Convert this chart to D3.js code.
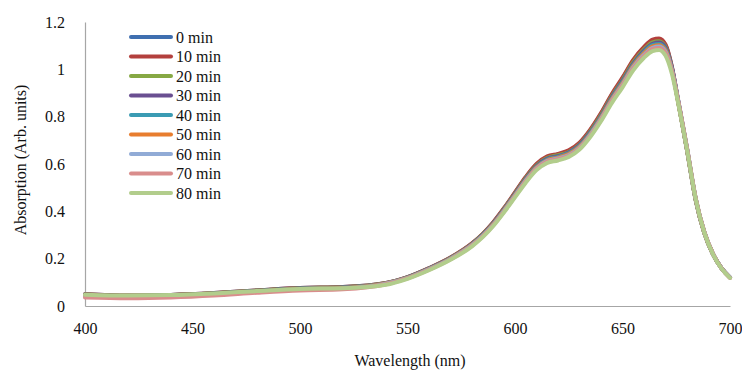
<!DOCTYPE html>
<html><head><meta charset="utf-8">
<script src="https://cdn.jsdelivr.net/npm/d3@7/dist/d3.min.js"></script>
</head><body style="margin:0;background:#fff">
<svg id="c" width="742" height="370" style="display:block;font-family:'Liberation Serif','Times New Roman',serif"></svg>
<script>
const wavelengths = [400,420,440,460,480,500,520,540,550,560,570,580,585,590,595,600,605,610,615,620,625,630,635,640,645,650,655,660,664,667,670,673,676,680,684,688,692,696,700];
const seriesNames = ["0 min","10 min","20 min","30 min","40 min","50 min","60 min","70 min","80 min"];
const seriesColors = ["#3f6fb0","#b3403d","#86a844","#6a4f91","#3a9bb3","#e87d2e","#91abd6","#d98d8c","#b2cd8c"];
const s0  = [.050,.044,.047,.055,.066,.076,.080,.097,.122,.159,.204,.264,.304,.354,.413,.478,.543,.598,.629,.640,.655,.687,.742,.812,.891,.961,1.036,1.091,1.120,1.125,1.101,1.007,.858,.659,.450,.310,.220,.160,.120];
const s10 = [.050,.044,.047,.055,.066,.076,.080,.097,.122,.160,.205,.265,.305,.355,.415,.480,.545,.600,.632,.643,.658,.690,.745,.815,.895,.965,1.040,1.095,1.125,1.130,1.105,1.010,.860,.660,.450,.310,.220,.160,.120];
const s20 = [.049,.043,.046,.054,.065,.075,.079,.096,.121,.158,.203,.262,.302,.351,.411,.475,.540,.594,.626,.637,.651,.683,.738,.807,.886,.955,1.030,1.084,1.114,1.119,1.095,1.002,.855,.659,.450,.310,.220,.160,.120];
const s30 = [.048,.042,.045,.053,.064,.074,.078,.095,.120,.158,.202,.261,.300,.350,.409,.473,.537,.591,.623,.633,.648,.680,.734,.803,.882,.951,1.024,1.079,1.108,1.113,1.092,1.005,.865,.667,.456,.314,.222,.161,.121];
const s40 = [.047,.041,.044,.052,.063,.073,.077,.095,.120,.157,.201,.260,.299,.348,.407,.470,.534,.588,.619,.630,.645,.676,.730,.799,.877,.946,1.019,1.073,1.103,1.107,1.086,1.000,.862,.665,.455,.313,.221,.160,.121];
const s50 = [.046,.040,.043,.051,.062,.072,.076,.095,.119,.156,.200,.258,.297,.346,.405,.468,.531,.585,.616,.627,.642,.673,.726,.795,.873,.941,1.014,1.068,1.097,1.102,1.081,.995,.858,.663,.454,.312,.221,.160,.120];
const s60 = [.040,.037,.040,.048,.060,.070,.074,.094,.118,.155,.199,.257,.296,.344,.403,.466,.529,.582,.613,.624,.638,.669,.723,.791,.868,.936,1.009,1.062,1.091,1.096,1.075,.994,.860,.665,.455,.313,.221,.160,.121];
const s70 = [.036,.033,.036,.044,.056,.066,.071,.092,.117,.153,.197,.255,.294,.342,.400,.463,.526,.579,.610,.620,.635,.666,.719,.786,.864,.931,1.004,1.057,1.086,1.090,1.070,.992,.862,.668,.458,.315,.222,.160,.119];
const s80 = [.048,.044,.046,.053,.063,.072,.075,.090,.115,.151,.195,.252,.291,.339,.397,.459,.521,.574,.605,.615,.630,.661,.714,.781,.857,.924,.996,1.049,1.077,1.082,1.058,.980,.852,.661,.454,.312,.220,.159,.119];
const seriesValues = [s0,s10,s20,s30,s40,s50,s60,s70,s80];
const xTicks = [400,450,500,550,600,650,700];
const yTicks = [0,0.2,0.4,0.6,0.8,1,1.2];
const xTitle = "Wavelength (nm)";
const yTitle = "Absorption (Arb. units)";
const FONT = "'Liberation Serif','Times New Roman',serif";

const svg = d3.select("#c");
const x = d3.scaleLinear().domain([400,700]).range([85,730]);
const y = d3.scaleLinear().domain([0,1.2]).range([306,22]);

function styleText(sel){ sel.attr("font-family",FONT).style("font-family",FONT).attr("font-size",16).attr("fill","#111"); }

const xAxis = svg.append("g").attr("transform","translate(0,306)")
  .call(d3.axisBottom(x).tickValues(xTicks).tickSize(0).tickPadding(17).tickFormat(d3.format("d")));
xAxis.attr("font-family",FONT);
xAxis.select(".domain").attr("stroke","#a6a6a6").attr("stroke-width",1.2);
xAxis.selectAll("text").call(styleText);
const yAxis = svg.append("g").attr("transform","translate(85,0)")
  .call(d3.axisLeft(y).tickValues(yTicks).tickSize(0).tickPadding(20).tickFormat(d => d===0||d===1 ? String(d) : d3.format(".1f")(d)));
yAxis.attr("font-family",FONT);
yAxis.select(".domain").attr("stroke","#a6a6a6").attr("stroke-width",1.2);
yAxis.selectAll("text").call(styleText);

svg.append("text").attr("x",410).attr("y",366).attr("text-anchor","middle").call(styleText).text(xTitle);
svg.append("text").attr("transform","translate(20,160) rotate(-90)").attr("text-anchor","middle")
  .attr("dominant-baseline","central").call(styleText).text(yTitle);

const line = d3.line().x((d,i)=>x(wavelengths[i])).y(d=>y(d)).curve(d3.curveMonotoneX);
seriesValues.forEach((vals,k)=>{
  svg.append("path").attr("d",line(vals)).attr("fill","none")
    .attr("stroke",seriesColors[k]).attr("stroke-width",4).attr("stroke-linejoin","round").attr("stroke-linecap","round");
});

const lg = svg.append("g");
seriesNames.forEach((n,i)=>{
  const yy = 37 + i*19.5;
  lg.append("line").attr("x1",131).attr("x2",171).attr("y1",yy).attr("y2",yy)
    .attr("stroke",seriesColors[i]).attr("stroke-width",4).attr("stroke-linecap","round");
  lg.append("text").attr("x",176).attr("y",yy).attr("dominant-baseline","central").call(styleText).text(n);
});
</script></body></html>
